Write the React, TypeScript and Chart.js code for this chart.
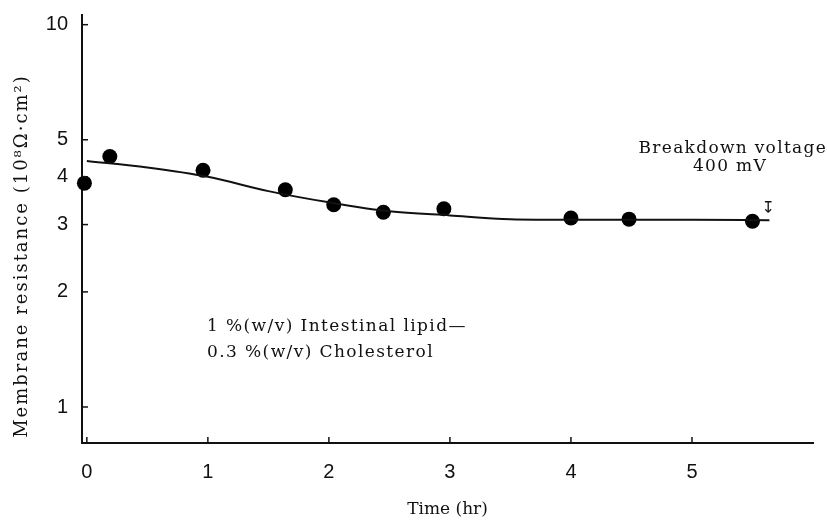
import React, { useEffect, useRef } from "react";
import { Chart, registerables } from "chart.js";

Chart.register(...registerables);

// Measured points: time (hr) and membrane resistance (10^8 Ω·cm²)
const pointTime = [-0.02, 0.19, 0.96, 1.64, 2.04, 2.45, 2.95, 4.0, 4.48, 5.5];
const pointResistance = [3.85, 4.52, 4.16, 3.7, 3.38, 3.23, 3.3, 3.12, 3.1, 3.06];

// Smooth trend curve drawn through the data
const curveTime = [0, 0.5, 1, 1.5, 2, 2.5, 3, 3.5, 4, 4.5, 5, 5.64];
const curveResistance = [4.4, 4.23, 4.0, 3.67, 3.43, 3.25, 3.17, 3.1, 3.09, 3.09, 3.09, 3.08];

const xTicks = [0, 1, 2, 3, 4, 5];
const yTicks = [1, 2, 3, 4, 5, 10];

const yTitle = "Membrane resistance (10⁸Ω·cm²)";
const xTitle = "Time (hr)";
const noteTopLines = ["Breakdown voltage", "400 mV"];
const noteBottomLines = ["1 %(w/v) Intestinal lipid—", "0.3 %(w/v) Cholesterol"];
const breakdownMark = "↧";

const INK = "#111";
const SERIF = '"DejaVu Serif", "Liberation Serif", serif';
const SANS = '"Liberation Sans", Arial, sans-serif';

const decorPlugin = {
  id: "decor",
  afterDraw(chart: any) {
    const { ctx, chartArea, scales } = chart;
    const x = scales.x;
    const y = scales.y;
    ctx.save();
    // inward tick marks
    ctx.strokeStyle = INK;
    ctx.lineWidth = 1.5;
    y.ticks.forEach((t: any) => {
      const py = y.getPixelForValue(t.value);
      ctx.beginPath();
      ctx.moveTo(chartArea.left, py);
      ctx.lineTo(chartArea.left + 6, py);
      ctx.stroke();
    });
    x.ticks.forEach((t: any) => {
      const px = x.getPixelForValue(t.value);
      ctx.beginPath();
      ctx.moveTo(px, chartArea.bottom);
      ctx.lineTo(px, chartArea.bottom - 6);
      ctx.stroke();
    });

    ctx.fillStyle = INK;
    // y axis title
    ctx.save();
    ctx.font = `18px ${SERIF}`;
    (ctx as any).letterSpacing = "2px";
    ctx.translate(22, 256);
    ctx.rotate(-Math.PI / 2);
    ctx.textAlign = "center";
    ctx.textBaseline = "middle";
    ctx.fillText(yTitle, 0, 0);
    ctx.restore();

    // annotations
    ctx.font = `17px ${SERIF}`;
    (ctx as any).letterSpacing = "1.3px";
    ctx.textBaseline = "alphabetic";
    ctx.textAlign = "right";
    ctx.fillText(noteTopLines[0], 827, 153);
    ctx.textAlign = "center";
    ctx.fillText(noteTopLines[1], 730, 171);
    ctx.textAlign = "left";
    (ctx as any).letterSpacing = "1.4px";
    ctx.fillText(noteBottomLines[0], 207, 331);
    ctx.fillText(noteBottomLines[1], 207, 357);

    // breakdown marker at the end of the curve
    (ctx as any).letterSpacing = "0px";
    ctx.font = `16px "DejaVu Sans", sans-serif`;
    ctx.textAlign = "center";
    ctx.textBaseline = "middle";
    ctx.fillText(breakdownMark, x.getPixelForValue(5.63), y.getPixelForValue(3.3));
    ctx.restore();
  },
};

export default function App() {
  const ref = useRef<HTMLCanvasElement | null>(null);

  useEffect(() => {
    if (!ref.current) return;
    const chart = new Chart(ref.current, {
      type: "line",
      data: {
        datasets: [
          {
            data: curveTime.map((t, i) => ({ x: t, y: curveResistance[i] })),
            borderColor: INK,
            borderWidth: 2,
            pointRadius: 0,
            cubicInterpolationMode: "monotone",
            fill: false,
            clip: false as any,
          },
          {
            data: pointTime.map((t, i) => ({ x: t, y: pointResistance[i] })),
            showLine: false,
            pointRadius: 7.5,
            pointBackgroundColor: "#000",
            pointBorderWidth: 0,
            clip: false as any,
          },
        ],
      },
      options: {
        responsive: false,
        animation: false,
        layout: { padding: { top: 15, right: 14, left: 0, bottom: 0 } },
        plugins: { legend: { display: false }, tooltip: { enabled: false } },
        scales: {
          x: {
            type: "linear",
            min: -0.04,
            max: 6.0,
            afterBuildTicks: (s: any) => {
              s.ticks = xTicks.map((v) => ({ value: v }));
            },
            afterFit: (s: any) => {
              s.height = 78;
              s.paddingLeft = 0;
              s.paddingRight = 0;
            },
            grid: { display: false, drawTicks: false },
            border: { display: true, color: INK, width: 2 },
            ticks: {
              padding: 17,
              color: INK,
              font: { family: SANS, size: 20 },
              callback: (v: any) => String(v),
            },
            title: {
              display: true,
              text: xTitle,
              color: INK,
              font: { family: SERIF, size: 17 },
              padding: { top: 0, bottom: 1 },
            },
          },
          y: {
            type: "logarithmic",
            min: 0.805,
            max: 10.6,
            afterBuildTicks: (s: any) => {
              s.ticks = yTicks.map((v) => ({ value: v }));
            },
            afterFit: (s: any) => {
              s.width = 82;
              s.paddingTop = 0;
              s.paddingBottom = 0;
            },
            grid: { display: false, drawTicks: false },
            border: { display: true, color: INK, width: 2 },
            ticks: {
              padding: 14,
              color: INK,
              font: { family: SANS, size: 20 },
              callback: (v: any) => String(v),
            },
          },
        },
      },
      plugins: [decorPlugin],
    });
    return () => chart.destroy();
  }, []);

  return (
    <div style={{ position: "fixed", left: 0, top: 0, width: 827, height: 521, background: "#fff" }}>
      <canvas ref={ref} width={827} height={521} />
    </div>
  );
}
